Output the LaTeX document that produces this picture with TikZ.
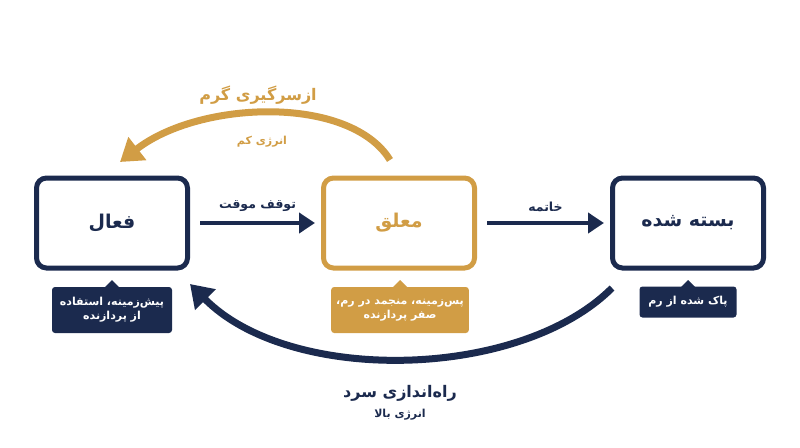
\documentclass[tikz,border=0pt]{standalone}
\usepackage{fontspec}
\newfontfamily\fa[Script=Arabic]{DejaVu Sans}
\usetikzlibrary{arrows.meta}
\definecolor{navy}{HTML}{1B2A4E}
\definecolor{gold}{HTML}{D19D45}
\TeXXeTstate=1
\newcommand{\rl}[1]{\beginR #1\endR}
\begin{document}
\begin{tikzpicture}[x=1pt,y=-1pt,
  state/.style={draw=#1,line width=5pt,rounded corners=10pt,fill=white,minimum width=151pt,minimum height=90pt,text=#1,font=\fa\fontsize{19}{22}\bfseries},
  note/.style={fill=#1,rounded corners=3pt,text=white,font=\fa\fontsize{11}{14}\bfseries,align=center,inner sep=5pt},
  arr/.style={line width=4.5pt,-{Triangle[length=16pt,width=20pt]}},
  bigarr/.style={line width=7pt,-{Triangle[length=22pt,width=28pt]}}]
\useasboundingbox (0,0) rectangle (800,447);
\node[state=navy] (act) at (112,223) {\rl{فعال}};
\node[state=gold] (sus) at (399,223) {\rl{معلق}};
\node[state=navy] (clo) at (688,223) {\rl{بسته شده}};
\draw[navy,arr] ([xshift=10pt]act.east) -- ([xshift=-6pt]sus.west) node[midway,above=6pt,font=\fa\fontsize{12.5}{14}\bfseries]{\rl{توقف موقت}};
\draw[navy,arr] ([xshift=10pt]sus.east) -- ([xshift=-6pt]clo.west) node[midway,above=6pt,font=\fa\fontsize{12.5}{14}\bfseries]{\rl{خاتمه}};
\node[note=navy,minimum width=120pt,minimum height=46pt] (n1) at (112,310) {\rl{پیش‌زمینه، استفاده}\\\rl{از پردازنده}};
\fill[navy] (104,288) -- (112,280) -- (120,288) -- cycle;
\node[note=gold,minimum width=135pt,minimum height=46pt] (n2) at (400,310) {\rl{پس‌زمینه، منجمد در رم،}\\\rl{صفر پردازنده}};
\fill[gold] (392,288) -- (400,280) -- (408,288) -- cycle;
\node[note=navy,minimum width=97pt,minimum height=31pt] (n3) at (688,302) {\rl{پاک شده از رم}};
\fill[navy] (680,288) -- (688,280) -- (696,288) -- cycle;
\coordinate (g1) at (390,160); \coordinate (g2) at (120,162);
\draw[gold,bigarr] (g1) .. controls (350,95) and (200,100) .. (g2);
\node[gold,font=\fa\fontsize{16}{18}\bfseries] (gl) at (258,95) {\rl{ازسرگیری گرم}};
\node[gold,font=\fa\fontsize{11}{13}\bfseries] (gl2) at (262,142) {\rl{انرژی کم}};
\coordinate (b1) at (612,288); \coordinate (b2) at (190,284);
\draw[navy,bigarr] (b1) .. controls (520,380) and (290,385) .. (b2);
\node[navy,font=\fa\fontsize{16}{18}\bfseries] (bl) at (400,393) {\rl{راه‌اندازی سرد}};
\node[navy,font=\fa\fontsize{11}{13}\bfseries] (bl2) at (400,415) {\rl{انرژی بالا}};
\end{tikzpicture}
\end{document}
